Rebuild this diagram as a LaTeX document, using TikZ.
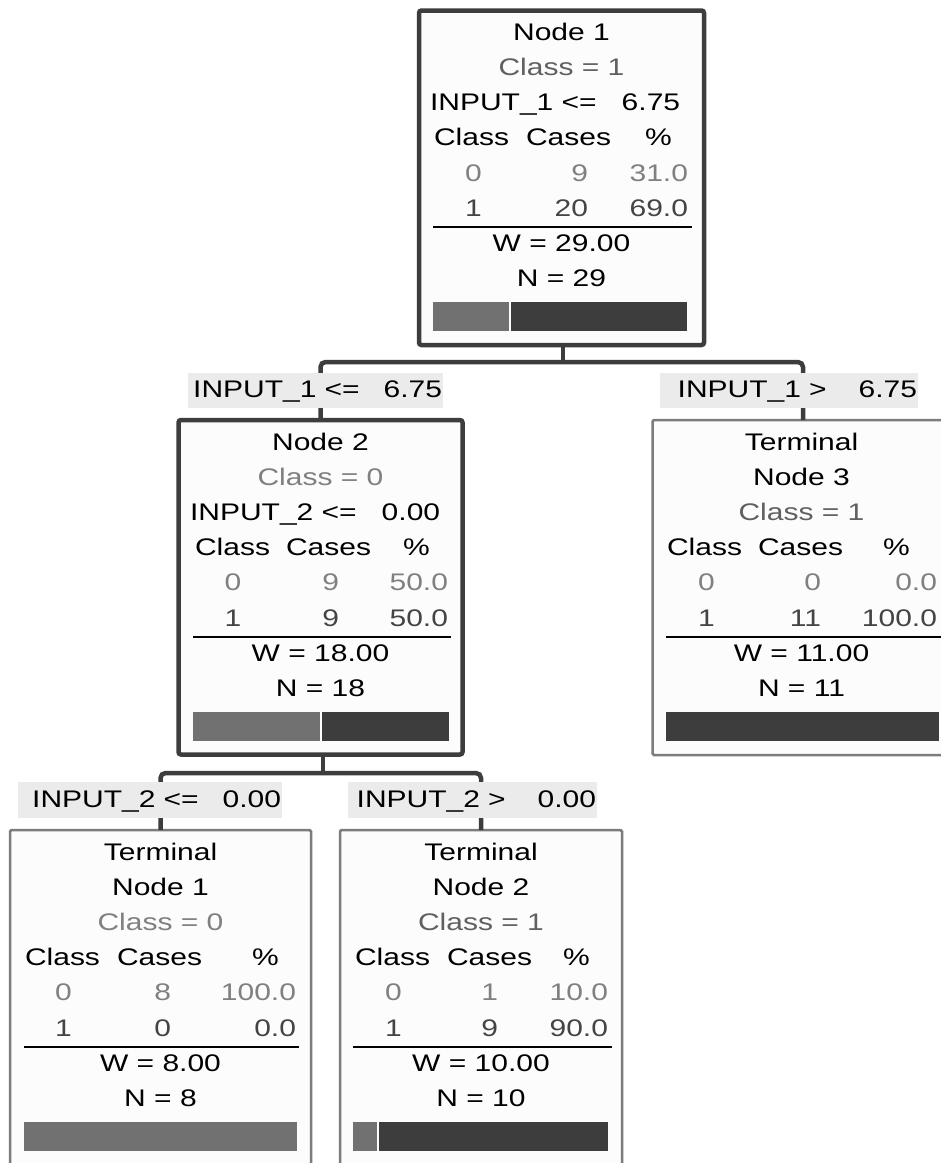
\documentclass[tikz,border=0pt]{standalone}
\usepackage{fontspec}
\setmainfont{Liberation Sans}[FakeStretch=1.25]
\usetikzlibrary{calc}
\definecolor{cdark}{HTML}{3D3D3D}
\definecolor{clight}{HTML}{717171}
\definecolor{cterm}{HTML}{7C7C7C}
\definecolor{clab}{HTML}{EBEBEB}
\definecolor{cbox}{HTML}{FCFCFC}
\definecolor{czero}{HTML}{808080}
\definecolor{cone}{HTML}{606060}
\definecolor{conerow}{HTML}{444444}
\begin{document}
\begin{tikzpicture}[x=1pt,y=-1pt,
  every node/.style={inner sep=0pt, outer sep=0pt, font=\fontsize{24}{28}\selectfont},
  splitbox/.style={draw=cdark, line width=4.5pt, fill=cbox, rounded corners=2.5pt, rectangle},
  termbox/.style={draw=cterm, line width=2.5pt, fill=cbox, rounded corners=1.5pt, rectangle},
  conn/.style={draw=cdark, line width=4.5pt, rounded corners=5pt},
  lab/.style={fill=clab, inner xsep=1pt, text height=25pt, text depth=10.5pt, align=right},
  tc/.style={anchor=base},
  tl/.style={anchor=base west},
  tr/.style={anchor=base east},
  gzero/.style={text=czero},
  gone/.style={text=cone},
  rowone/.style={text=conerow},
  rulel/.style={draw=black, line width=2pt},
]
\useasboundingbox (0,0) rectangle (941,1163);
\clip (0,0) rectangle (941,1163);
\fill[white] (0,0) rectangle (941,1163);

% ---------- boxes ----------
\node[splitbox, minimum width=285pt, minimum height=334.5pt] (n1) at (561.5,177.75) {};
\node[splitbox, minimum width=284pt, minimum height=334.5pt] (n2) at (320.5,587.25) {};
\node[termbox, minimum width=301pt, minimum height=335pt] (t3) at (803,587.5) {};
\node[termbox, minimum width=301pt, minimum height=335pt] (t1) at (160.5,997.5) {};
\node[termbox, minimum width=282pt, minimum height=335pt] (t2) at (481,997.5) {};

% ---------- Node 1 ----------
\node[tc] (n1t) at (561.5,40.7) {Node 1};
\node[tc,gone] (n1c) at (561.5,75.5) {Class = 1};
\node[tl] (n1s) at (430,110.5) {INPUT\_1 <=~~~6.75};
\node[tl] (n1h1) at (434,145.7) {Class};
\node[tl] (n1h2) at (526,145.7) {Cases};
\node[tl] (n1h3) at (645,145.7) {\%};
\node[tc,gzero] (n1ra) at (473.5,181.2) {0};
\node[tr,gzero] (n1rb) at (588,181.2) {9};
\node[tr,gzero] (n1rc) at (688,181.2) {31.0};
\node[tc,rowone] (n1sa) at (473.5,216.5) {1};
\node[tr,rowone] (n1sb) at (588,216.5) {20};
\node[tr,rowone] (n1sc) at (688,216.5) {69.0};
\draw[rulel] (433,227) -- (692,227);
\node[tc] (n1w) at (561.5,251.7) {W = 29.00};
\node[tc] (n1n) at (561.5,286.7) {N = 29};
\fill[clight] (433,302) rectangle (509,331);
\fill[cdark] (511,302) rectangle (687,331);

% ---------- Node 2 ----------
\node[tc] (n2t) at (320.5,450.2) {Node 2};
\node[tc,gzero] (n2c) at (320.5,485) {Class = 0};
\node[tl] (n2s) at (190,520) {INPUT\_2 <=~~~0.00};
\node[tl] (n2h1) at (195,555.2) {Class};
\node[tl] (n2h2) at (286,555.2) {Cases};
\node[tl] (n2h3) at (403,555.2) {\%};
\node[tc,gzero] (n2ra) at (233,590.7) {0};
\node[tr,gzero] (n2rb) at (339,590.7) {9};
\node[tr,gzero] (n2rc) at (448,590.7) {50.0};
\node[tc,rowone] (n2sa) at (233,626) {1};
\node[tr,rowone] (n2sb) at (339,626) {9};
\node[tr,rowone] (n2sc) at (448,626) {50.0};
\draw[rulel] (193,636.5) -- (451,636.5);
\node[tc] (n2w) at (320.5,661.2) {W = 18.00};
\node[tc] (n2n) at (320.5,696.2) {N = 18};
\fill[clight] (193,711.5) rectangle (320,740.5);
\fill[cdark] (322,711.5) rectangle (449,740.5);

% ---------- Terminal Node 3 ----------
\node[tc] (t3t) at (801.5,450.2) {Terminal};
\node[tc] (t3u) at (801.5,485) {Node 3};
\node[tc,gone] (t3c) at (801.5,520) {Class = 1};
\node[tl] (t3h1) at (667,555.2) {Class};
\node[tl] (t3h2) at (758,555.2) {Cases};
\node[tl] (t3h3) at (883,555.2) {\%};
\node[tc,gzero] (t3ra) at (706.5,590.7) {0};
\node[tr,gzero] (t3rb) at (821,590.7) {0};
\node[tr,gzero] (t3rc) at (937,590.7) {0.0};
\node[tc,rowone] (t3sa) at (706.5,626) {1};
\node[tr,rowone] (t3sb) at (821,626) {11};
\node[tr,rowone] (t3sc) at (937,626) {100.0};
\draw[rulel] (666,636.5) -- (941.5,636.5);
\node[tc] (t3w) at (801.5,661.2) {W = 11.00};
\node[tc] (t3n) at (801.5,696.2) {N = 11};
\fill[cdark] (666,711.5) rectangle (939,740.5);

% ---------- Terminal Node 1 ----------
\node[tc] (t1t) at (160.5,860.2) {Terminal};
\node[tc] (t1u) at (160.5,895) {Node 1};
\node[tc,gzero] (t1c) at (160.5,930) {Class = 0};
\node[tl] (t1h1) at (25,965.2) {Class};
\node[tl] (t1h2) at (117,965.2) {Cases};
\node[tl] (t1h3) at (252,965.2) {\%};
\node[tc,gzero] (t1ra) at (63.5,1000.7) {0};
\node[tr,gzero] (t1rb) at (171,1000.7) {8};
\node[tr,gzero] (t1rc) at (296,1000.7) {100.0};
\node[tc,rowone] (t1sa) at (63.5,1036) {1};
\node[tr,rowone] (t1sb) at (171,1036) {0};
\node[tr,rowone] (t1sc) at (296,1036) {0.0};
\draw[rulel] (24,1046.5) -- (299,1046.5);
\node[tc] (t1w) at (160.5,1071.2) {W = 8.00};
\node[tc] (t1n) at (160.5,1106.2) {N = 8};
\fill[clight] (24,1121.5) rectangle (297,1150.5);

% ---------- Terminal Node 2 ----------
\node[tc] (t2t) at (481,860.2) {Terminal};
\node[tc] (t2u) at (481,895) {Node 2};
\node[tc,gone] (t2c) at (481,930) {Class = 1};
\node[tl] (t2h1) at (355,965.2) {Class};
\node[tl] (t2h2) at (447,965.2) {Cases};
\node[tl] (t2h3) at (563,965.2) {\%};
\node[tc,gzero] (t2ra) at (393.5,1000.7) {0};
\node[tr,gzero] (t2rb) at (498,1000.7) {1};
\node[tr,gzero] (t2rc) at (608,1000.7) {10.0};
\node[tc,rowone] (t2sa) at (393.5,1036) {1};
\node[tr,rowone] (t2sb) at (498,1036) {9};
\node[tr,rowone] (t2sc) at (608,1036) {90.0};
\draw[rulel] (353,1046.5) -- (612,1046.5);
\node[tc] (t2w) at (481,1071.2) {W = 10.00};
\node[tc] (t2n) at (481,1106.2) {N = 10};
\fill[clight] (353,1121.5) rectangle (377,1150.5);
\fill[cdark] (379,1121.5) rectangle (608,1150.5);

% ---------- connectors ----------
\coordinate (j1) at (563,362);
\coordinate (j2) at (323,773);
\draw[conn] (n1.south -| j1) -- (j1);
\draw[conn] (n2.north) |- (j1) -| (t3.north);
\draw[conn] (n2.south -| j2) -- (j2);
\draw[conn] (t1.north) |- (j2) -| (t2.north);

% ---------- split labels ----------
\node[lab, text width=253pt] (l1) at (315.5,390.5) {INPUT\_1 <=~~~6.75};
\node[lab, text width=256pt] (l2) at (789,390.5) {INPUT\_1 >~~~~6.75};
\node[lab, text width=262pt] (l3) at (150,800) {INPUT\_2 <=~~~0.00};
\node[lab, text width=247pt] (l4) at (472.5,800) {INPUT\_2 >~~~~0.00};
\end{tikzpicture}
\end{document}
